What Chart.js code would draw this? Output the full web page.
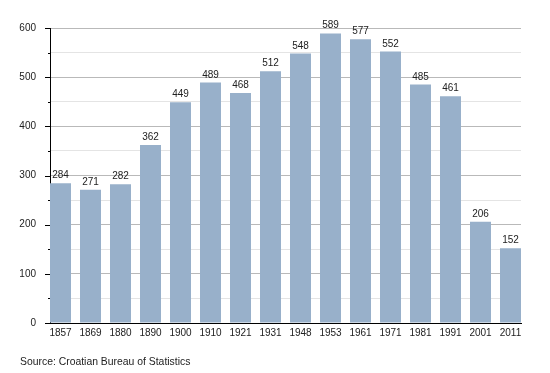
<!DOCTYPE html>
<html>
<head>
<meta charset="utf-8">
<script src="https://cdn.jsdelivr.net/npm/chart.js@4"></script>
<style>
  html, body { margin: 0; padding: 0; background: #fff; }
  #wrap { position: relative; width: 550px; height: 373px; }
  #source { position: absolute; left: 20px; top: 356px; font: 10.4px "Liberation Sans", Arial, sans-serif; color: #222; white-space: nowrap; }
</style>
</head>
<body>
<div id="wrap">
  <canvas id="c" width="550" height="373"></canvas>
  <div id="source">Source: Croatian Bureau of Statistics</div>
</div>
<script>
const years = ['1857','1869','1880','1890','1900','1910','1921','1931','1948','1953','1961','1971','1981','1991','2001','2011'];
const population = [284,271,282,362,449,489,468,512,548,589,577,552,485,461,206,152];
const yTicks = [0,100,200,300,400,500,600];

const FONT = '"Liberation Sans", Arial, sans-serif';
const TEXT = '#222';

const tickMarks = {
  id: 'tickMarks',
  afterDraw(chart) {
    const y = chart.scales.y;
    const ctx = chart.ctx;
    ctx.save();
    ctx.strokeStyle = '#000';
    ctx.lineWidth = 1;
    y.ticks.forEach(t => {
      const py = Math.round(y.getPixelForValue(t.value)) + 0.5;
      const len = (t.value % 100 === 0) ? 5 : 2;
      ctx.beginPath();
      ctx.moveTo(chart.chartArea.left - len, py);
      ctx.lineTo(chart.chartArea.left, py);
      ctx.stroke();
    });
    ctx.restore();
  }
};

const valueLabels = {
  id: 'valueLabels',
  afterDatasetsDraw(chart) {
    const ctx = chart.ctx;
    const meta = chart.getDatasetMeta(0);
    ctx.save();
    ctx.font = '10px ' + FONT;
    ctx.fillStyle = TEXT;
    ctx.textAlign = 'center';
    ctx.textBaseline = 'alphabetic';
    meta.data.forEach((bar, i) => {
      ctx.fillText(String(population[i]), bar.x, bar.y - 5);
    });
    ctx.restore();
  }
};

new Chart(document.getElementById('c'), {
  type: 'bar',
  data: {
    datasets: [{
      data: population.map((v, i) => ({ x: i, y: v })),
      backgroundColor: '#98b0ca',
      borderWidth: 0,
      categoryPercentage: 1,
      barPercentage: 0.7
    }]
  },
  options: {
    responsive: false,
    animation: false,
    layout: { padding: { top: 28, right: 29, bottom: 30, left: 0 } },
    plugins: { legend: { display: false }, tooltip: { enabled: false }, title: { display: false } },
    scales: {
      x: {
        type: 'linear',
        min: -0.35,
        max: years.length - 1 + 0.35,
        offset: false,
        afterFit(s) { s.height = 20; },
        afterBuildTicks(s) { s.ticks = years.map((_, i) => ({ value: i })); },
        grid: { display: false, drawTicks: false },
        border: { display: true, color: '#000', width: 1 },
        ticks: {
          autoSkip: false, maxRotation: 0, padding: 4,
          font: { family: FONT, size: 10 }, color: TEXT,
          callback: (v) => years[v]
        }
      },
      y: {
        min: 0, max: 600,
        afterFit(s) { s.width = 50; },
        afterBuildTicks(s) {
          const t = [];
          yTicks.forEach((v, i) => { t.push({ value: v }); if (i < yTicks.length - 1) t.push({ value: (v + yTicks[i + 1]) / 2 }); });
          s.ticks = t;
        },
        grid: {
          drawTicks: false,
          color: (c) => (c.tick && c.tick.value % 100 === 0) ? '#b9b9b9' : '#e4e4e4',
          lineWidth: 1
        },
        border: { display: true, color: '#000', width: 1 },
        ticks: {
          padding: 14,
          font: { family: FONT, size: 10 }, color: TEXT,
          callback: (v) => (v % 100 === 0 ? String(v) : '')
        }
      }
    }
  },
  plugins: [tickMarks, valueLabels]
});
</script>
</body>
</html>
